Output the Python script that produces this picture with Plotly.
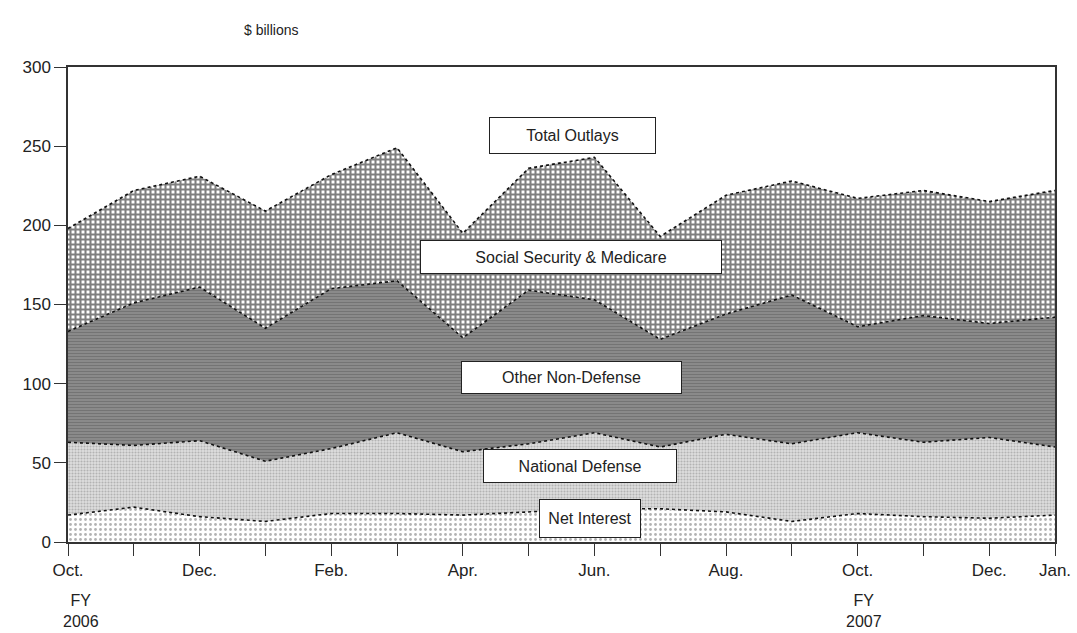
import plotly.graph_objects as go

months = ["Oct. 2005", "Nov. 2005", "Dec. 2005", "Jan. 2006", "Feb. 2006", "Mar. 2006",
          "Apr. 2006", "May 2006", "Jun. 2006", "Jul. 2006", "Aug. 2006", "Sep. 2006",
          "Oct. 2006", "Nov. 2006", "Dec. 2006", "Jan. 2007"]
tick_labels = ["Oct.", "", "Dec.", "", "Feb.", "", "Apr.", "", "Jun.", "", "Aug.", "",
               "Oct.", "", "Dec.", "Jan."]

net_interest = [17, 22, 16, 13, 18, 18, 17, 19, 21, 21, 19, 13, 18, 16, 15, 17]
national_defense = [46, 39, 48, 38, 41, 51, 40, 43, 48, 39, 49, 49, 51, 47, 51, 43]
other_non_defense = [70, 90, 97, 84, 101, 96, 72, 97, 84, 68, 76, 94, 67, 80, 72, 82]
social_security_medicare = [65, 71, 70, 74, 72, 84, 66, 77, 90, 65, 75, 72, 81, 79, 77, 80]

x_idx = list(range(len(months)))
FONT = "Liberation Sans, Arial, sans-serif"

series = [
    ("Net Interest", net_interest, dict(shape=".", fgcolor="#666666", bgcolor="#ffffff", size=5, solidity=0.25)),
    ("National Defense", national_defense, dict(shape=".", fgcolor="#888888", bgcolor="#dedede", size=3, solidity=0.4)),
    ("Other Non-Defense", other_non_defense, dict(shape="-", fgcolor="#5a5a5a", bgcolor="#8e8e8e", size=3, solidity=0.45)),
    ("Social Security & Medicare", social_security_medicare, dict(shape="+", fgcolor="#000000", bgcolor="#ffffff", size=5, solidity=0.65)),
]

fig = go.Figure()
for name, vals, pat in series:
    fig.add_trace(go.Scatter(
        x=x_idx, y=vals, name=name, stackgroup="one", mode="lines",
        line=dict(color="#111111", width=1.6, dash="dot"),
        fillpattern=pat, hoverinfo="skip", showlegend=False,
    ))

labels = [
    ("Total Outlays", 7.67, 257, 163, 33),
    ("Social Security & Medicare", 7.65, 180, 298, 30),
    ("Other Non-Defense", 7.65, 104, 217, 29),
    ("National Defense", 7.78, 48, 190, 30),
    ("Net Interest", 7.93, 15, 98, 35),
]
for text, xv, yv, w, h in labels:
    fig.add_annotation(x=xv, y=yv, xref="x", yref="y", text=text, showarrow=False,
                       font=dict(family=FONT, size=16, color="#222222"),
                       bgcolor="#ffffff", bordercolor="#222222", borderwidth=1,
                       width=w, height=h)

fig.add_annotation(x=0.2, y=-0.1, xref="x", yref="paper", text="FY<br>2006", showarrow=False,
                   font=dict(family=FONT, size=16, color="#222222"), yanchor="top", xanchor="center", align="center")
fig.add_annotation(x=12.1, y=-0.1, xref="x", yref="paper", text="FY<br>2007", showarrow=False,
                   font=dict(family=FONT, size=16, color="#222222"), yanchor="top", xanchor="center", align="center")
fig.add_annotation(x=(271 - 68) / 987, y=1 + (67 - 20) / 475, xref="paper", yref="paper",
                   text="$ billions", showarrow=False, xanchor="center",
                   font=dict(family=FONT, size=14, color="#222222"))

fig.update_layout(
    width=1077, height=633,
    margin=dict(l=68, r=22, t=67, b=91),
    paper_bgcolor="white", plot_bgcolor="white",
    font=dict(family=FONT, size=16, color="#222222"),
)
fig.update_xaxes(range=[0, 15], tickmode="array", tickvals=x_idx, ticktext=tick_labels,
                 ticks="outside", ticklen=12, tickcolor="#333333", showgrid=False, zeroline=False,
                 showline=True, linecolor="#333333", linewidth=1.5, mirror=True, automargin=False,
                 tickfont=dict(family=FONT, size=17, color="#222222"))
fig.update_yaxes(range=[0, 300], tickmode="array", tickvals=[0, 50, 100, 150, 200, 250, 300],
                 ticks="outside", ticklen=12, tickcolor="#333333", showgrid=False, zeroline=False,
                 showline=True, linecolor="#333333", linewidth=1.5, mirror=True, automargin=False,
                 tickfont=dict(family=FONT, size=17, color="#222222"))

fig.write_html("out.html", config={"displayModeBar": False},
               post_script="document.body.style.margin='0';document.body.style.overflow='hidden';")
